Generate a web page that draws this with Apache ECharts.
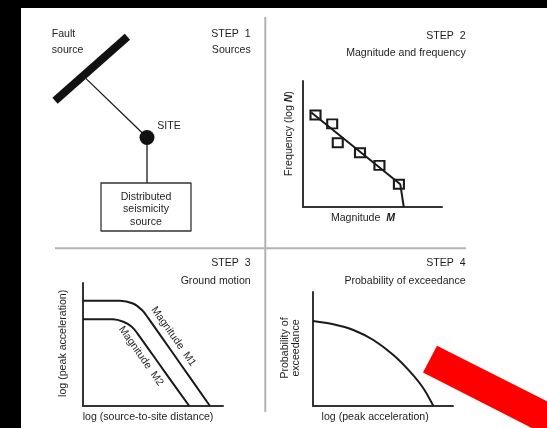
<!DOCTYPE html>
<html>
<head>
<meta charset="utf-8">
<style>
  html, body { margin: 0; padding: 0; background: #fff; }
  #chart { width: 547px; height: 428px; }
</style>
<script src="https://cdn.jsdelivr.net/npm/echarts@6/dist/echarts.min.js"></script>
</head>
<body>
<div id="chart"></div>
<script>
// ---- Data (abstract diagram units, 0..10 per panel) ----
// Step 1: sources schematic
const faultLine   = [[0.75, 6.33], [4.37, 9.24]];
const faultToSite = [[2.16, 7.46], [5.35, 4.66]];
const siteToBox   = [[5.35, 4.66], [5.35, 2.59]];
const boxOutline  = [[3.05, 2.59], [7.55, 2.59], [7.55, 0.41], [3.05, 0.41], [3.05, 2.59]];
const sitePoint   = [[5.35, 4.66]];
// Step 2: magnitude–frequency
const freqPoints  = [[0.9, 7.3], [2.1, 6.6], [2.5, 5.1], [4.1, 4.3], [5.5, 3.3], [6.9, 1.8]];
const freqFit     = [[0.6, 7.5], [7.0, 1.8], [7.25, 0]];
// Step 3: ground motion attenuation
const m1Curve = [[0, 8.56], [1.5, 8.56], [2.64, 8.56], [3.57, 8.33], [4.21, 7.80], [4.66, 7.15], [6.9, 3.52], [9.07, 0]];
const m2Curve = [[0, 7.05], [1.2, 7.05], [2.14, 7.05], [2.88, 6.85], [3.48, 6.45], [3.88, 5.91], [5.7, 3.0], [7.59, 0]];
// Step 4: probability of exceedance
const exceedCurve = [[0, 7.46], [1.45, 7.17], [2.88, 6.67], [4.31, 5.79], [5.74, 4.47], [6.93, 3.01], [7.88, 1.56], [8.6, 0]];
// Texts
const stepTitles = ['STEP  1', 'STEP  2', 'STEP  3', 'STEP  4'];
const stepSubtitles = ['Sources', 'Magnitude and frequency', 'Ground motion', 'Probability of exceedance'];

const FONT = 'Liberation Sans';
const FS = 10.6;
const TXT = '#1e1e1e';

function visAxis(gi) {
  return {
    type: 'value', gridIndex: gi, min: 0, max: 10,
    axisLine: { show: true, onZero: false, lineStyle: { color: '#333', width: 2 } },
    axisTick: { show: false }, axisLabel: { show: false }, splitLine: { show: false }
  };
}
function hidAxis(gi) {
  return { type: 'value', gridIndex: gi, min: 0, max: 10, show: false, splitLine: { show: false } };
}
function lineSeries(gi, data, width, extra) {
  return Object.assign({
    type: 'line', xAxisIndex: gi, yAxisIndex: gi, data: data,
    symbol: 'none', showSymbol: false, silent: true,
    lineStyle: { color: '#1a1a1a', width: width, cap: 'butt' }
  }, extra || {});
}
function txt(text, x, y, align, vAlign, extra) {
  return Object.assign({
    type: 'text', x: x, y: y, z: 50,
    style: Object.assign({ text: text, x: 0, y: 0, fill: TXT, fontSize: FS, fontFamily: FONT,
      align: align || 'left', verticalAlign: vAlign || 'middle' }, (extra && extra.style) || {})
  }, extra ? { rotation: extra.rotation || 0 } : {});
}
const richBI = { b: { fontWeight: 'bold', fontStyle: 'italic', fontSize: FS, fontFamily: FONT, fill: TXT } };

const option = {
  animation: false,
  backgroundColor: '#fff',
  grid: [
    { left: 40, top: 20, width: 200, height: 220, outerBoundsMode: 'none' },
    { left: 303, top: 81, width: 139, height: 126, outerBoundsMode: 'none' },
    { left: 83, top: 283, width: 140, height: 123, outerBoundsMode: 'none' },
    { left: 313, top: 292, width: 140, height: 114, outerBoundsMode: 'none' }
  ],
  xAxis: [hidAxis(0), visAxis(1), visAxis(2), visAxis(3)],
  yAxis: [hidAxis(0), visAxis(1), visAxis(2), visAxis(3)],
  series: [
    lineSeries(0, faultLine, 8, { lineStyle: { color: '#111', width: 8, cap: 'butt' } }),
    lineSeries(0, faultToSite, 1.3),
    lineSeries(0, siteToBox, 1.3),
    lineSeries(0, boxOutline, 1.3, { lineStyle: { color: '#333', width: 1.3, cap: 'square' } }),
    { type: 'scatter', xAxisIndex: 0, yAxisIndex: 0, data: sitePoint, symbol: 'circle', symbolSize: 15,
      itemStyle: { color: '#111', opacity: 1 }, silent: true, z: 3 },
    lineSeries(1, freqFit, 2),
    { type: 'scatter', xAxisIndex: 1, yAxisIndex: 1, data: freqPoints, symbol: 'rect', symbolSize: [10, 9],
      itemStyle: { color: 'rgba(0,0,0,0)', borderColor: '#1a1a1a', borderWidth: 2, opacity: 1 }, silent: true, z: 3 },
    lineSeries(2, m1Curve, 2, { smooth: 0.35 }),
    lineSeries(2, m2Curve, 2, { smooth: 0.35 }),
    lineSeries(3, exceedCurve, 2, { smooth: 0.3 })
  ],
  graphic: {
    elements: [
      // panel dividers
      { type: 'line', z: 5, shape: { x1: 265.3, y1: 17, x2: 265.3, y2: 412 }, style: { stroke: '#b3b3b3', lineWidth: 2 } },
      { type: 'line', z: 5, shape: { x1: 55, y1: 248.3, x2: 466, y2: 248.3 }, style: { stroke: '#b3b3b3', lineWidth: 2 } },
      // step titles
      txt(stepTitles[0], 250.7, 34, 'right'),
      txt(stepSubtitles[0], 250.7, 50.5, 'right'),
      txt(stepTitles[1], 465.7, 36, 'right'),
      txt(stepSubtitles[1], 465.7, 53, 'right'),
      txt(stepTitles[2], 250.7, 263.3, 'right'),
      txt(stepSubtitles[2], 250.7, 280.7, 'right'),
      txt(stepTitles[3], 465.7, 263.3, 'right'),
      txt(stepSubtitles[3], 465.7, 280.7, 'right'),
      // step 1 labels
      txt('Fault', 51.7, 34, 'left'),
      txt('source', 51.7, 50, 'left'),
      txt('SITE', 157.3, 126, 'left'),
      txt('Distributed', 146, 196.7, 'center'),
      txt('seismicity', 146, 209.3, 'center'),
      txt('source', 146, 221.7, 'center'),
      // step 2 axis labels
      txt('Magnitude  {b|M}', 363, 218.3, 'center', 'middle', { style: { rich: richBI } }),
      txt('Frequency (log {b|N})', 289, 133.5, 'center', 'middle', { rotation: Math.PI / 2, style: { rich: richBI } }),
      // step 3 labels
      txt('log (peak acceleration)', 63.3, 343.3, 'center', 'middle', { rotation: Math.PI / 2 }),
      txt('log (source-to-site distance)', 148, 416.7, 'center'),
      txt('Magnitude  M1', 173.5, 336.5, 'center', 'middle', { rotation: -55 * Math.PI / 180 }),
      txt('Magnitude  M2', 141, 356, 'center', 'middle', { rotation: -55 * Math.PI / 180 }),
      // step 4 labels
      txt('Probability of\nexceedance', 290.5, 348, 'center', 'middle', { rotation: Math.PI / 2, style: { lineHeight: 11.6 } }),
      txt('log (peak acceleration)', 375.2, 416.7, 'center'),
      // red annotation bar
      { type: 'polygon', z: 100, shape: { points: [[437, 345.7], [600, 428.2], [600, 462.8], [423, 372.5]] },
        style: { fill: '#ff0000' } },
      // black frame bands
      { type: 'rect', z: 120, shape: { x: 0, y: 0, width: 547, height: 8 }, style: { fill: '#000' } },
      { type: 'rect', z: 120, shape: { x: 0, y: 0, width: 21, height: 428 }, style: { fill: '#000' } }
    ]
  }
};

const chart = echarts.init(document.getElementById('chart'), null, { renderer: 'canvas' });
chart.setOption(option);
</script>
</body>
</html>
